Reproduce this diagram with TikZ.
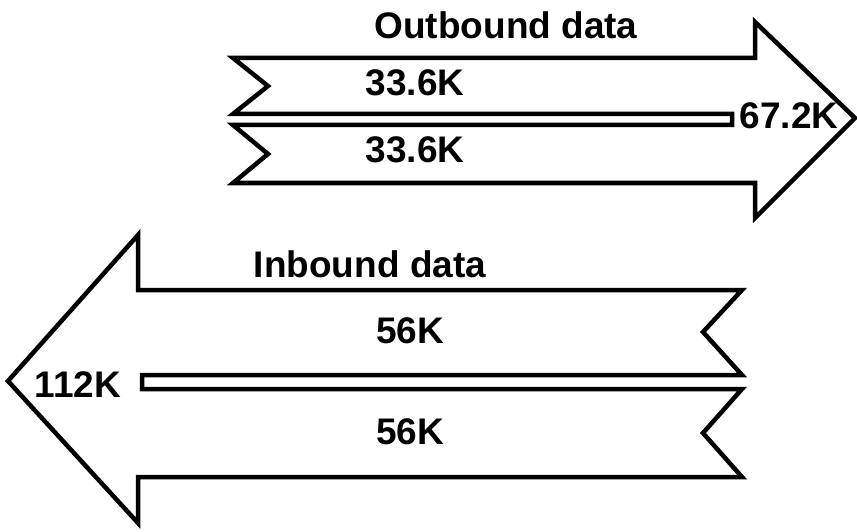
\documentclass[tikz,border=0pt]{standalone}
\usepackage{fontspec}
\setmainfont{Liberation Sans}
\usetikzlibrary{positioning}

\begin{document}
\begin{tikzpicture}[x=1pt, y=-1pt, line width=4.5pt,
    flowlabel/.style={font=\fontsize{37}{40}\selectfont\bfseries, inner sep=0pt}]
        \useasboundingbox (0,0) rectangle (857,532);

        % Outbound arrow, two strips joined into one head
        \draw (233,58) -- (755,58) -- (755,22) -- (855,118) -- (755,218) -- (755,183)
            -- (233,183) -- (268,154) -- (233,125) -- (732,125) -- (732,114)
            -- (233,114) -- (268,86) -- cycle;
        \node[flowlabel] (outlabel) at (506,25) {Outbound data};
        \node[flowlabel] (outtop) at (415,83) {33.6K};
        \node[flowlabel] (outbottom) at (415,150) {33.6K};
        \node[flowlabel] (outtotal) at (789,116) {67.2K};

        % Inbound arrow, pointing left
        \draw (138,290) -- (742,290) -- (703,332) -- (742,375) -- (142,375) -- (142,389)
            -- (742,389) -- (703,433) -- (742,477) -- (138,477) -- (138,523)
            -- (8,381) -- (138,235) -- cycle;
        \node[flowlabel] (inlabel) at (370,264) {Inbound data};
        \node[flowlabel] (intop) at (410,331) {56K};
        \node[flowlabel] (inbottom) at (410,432) {56K};
        \node[flowlabel] (intotal) at (78,385) {112K};
    \end{tikzpicture}
\end{document}
